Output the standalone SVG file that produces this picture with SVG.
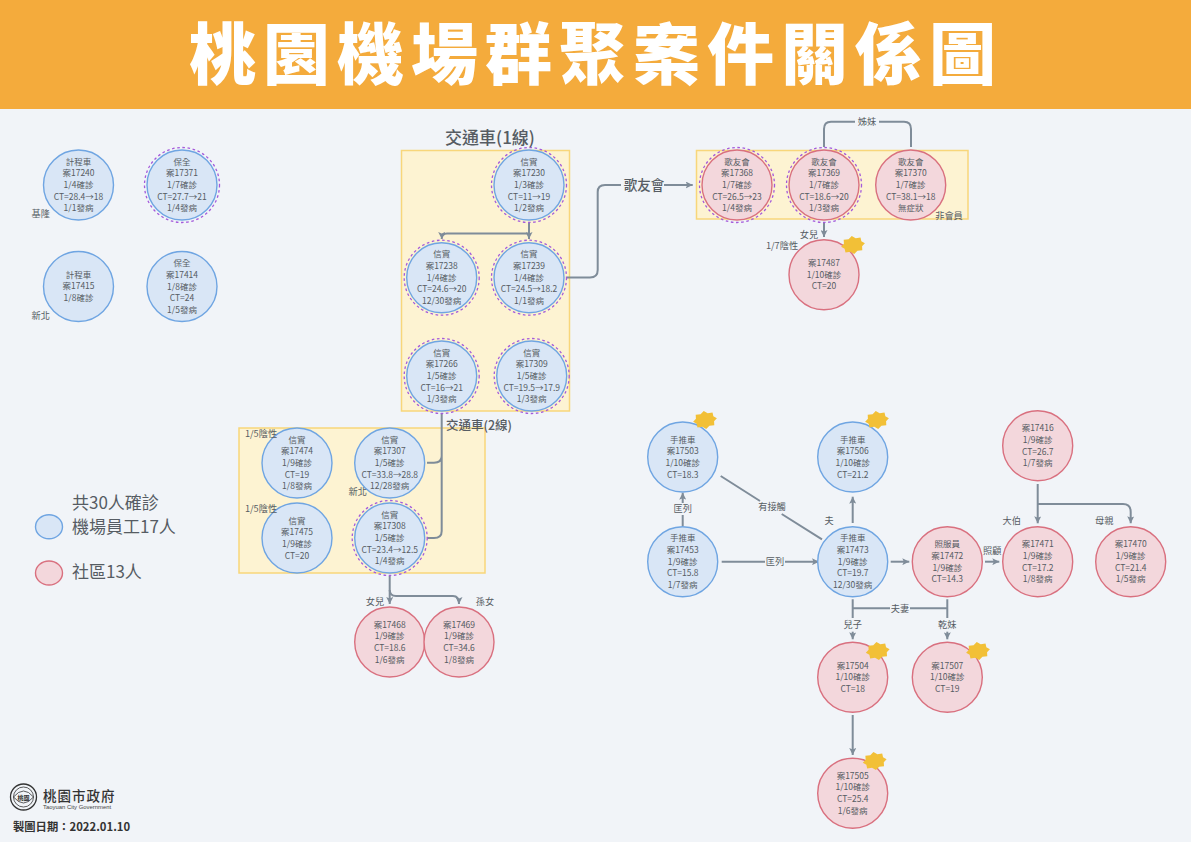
<svg xmlns="http://www.w3.org/2000/svg" width="1191" height="842" viewBox="0 0 1191 842">
<style>
text{font-family:"Noto Sans CJK TC","Noto Sans",sans-serif;text-anchor:middle;fill:#565c63}
.t{font-size:8.5px}
.l{font-size:9.2px}
.b{fill:#d9e6f6;stroke:#6fa5e2;stroke-width:1.4}
.r{fill:#f3d7dc;stroke:#d9707f;stroke-width:1.4}
.d{fill:none;stroke:#a45adb;stroke-width:1.3;stroke-dasharray:2.6 2.6}
.g{fill:#fdf3d2;stroke:#f8d67a;stroke-width:1.5}
.c{fill:none;stroke:#7f8c99;stroke-width:2}
.a{marker-end:url(#arrow)}
.s{fill:#f2c037}
.h{font-weight:500}
</style>
<defs>
<marker id="arrow" viewBox="0 0 7 7" refX="7" refY="3.500" markerWidth="7" markerHeight="7" markerUnits="userSpaceOnUse" orient="auto">
<path d="M0,0L7,3.500L0,7L1.500,3.500z" fill="#7f8c99"/>
</marker>
<path id="star" d="M12,0L8.800,2.600L8.500,6.400L3.600,6.300L0,9L-3.600,6.300L-8.500,6.400L-8.800,2.600L-12,0L-8.800,-2.600L-8.500,-6.400L-3.600,-6.300L0,-9L3.600,-6.300L8.500,-6.400L8.800,-2.600z"/>
</defs>
<rect width="1191" height="842" fill="#f1f4f8"/>
<rect width="1191" height="109" fill="#f4ab3c"/>
<text x="596" y="79" font-size="67" font-weight="900" letter-spacing="7" style="fill:#fff">桃園機場群聚案件關係圖</text>

<g id="groups">
<rect class="g" x="401.500" y="150.500" width="168" height="260.500"/>
<rect class="g" x="696.500" y="150.500" width="271.500" height="68.500"/>
<rect class="g" x="239" y="428" width="246" height="145"/>
</g>

<g id="connectors">
<path class="c a" d="M529,223V239"/>
<path class="c a" d="M529,233.500H447Q441.700,233.500 441.700,239"/>
<path class="c" d="M567,277.500H590Q597.700,277.500 597.700,270V192Q597.700,185 605,185H621"/>
<path class="c a" d="M664,185H692.700"/>
<path class="c" d="M824,147V129Q824,121.700 831,121.700H855M879,121.700H904Q911,121.700 911,129V147"/>
<path class="c a" d="M824,222V237"/>
<path class="c" d="M441.700,413V531Q441.700,538 434,538H427M441.700,456Q441.700,462.700 434,462.700H427"/>
<path class="c a" d="M389.700,576V604"/>
<path class="c a" d="M389.700,590Q389.700,596 396,596H453Q459,596 459,604"/>
<path class="c" d="M682.700,526V515"/>
<path class="c a" d="M682.700,503V492.700"/>
<path class="c" d="M720.700,476L760,501M781.700,514L822,539.300"/>
<path class="c" d="M721.700,561.700H765"/>
<path class="c a" d="M785,561.700H819"/>
<path class="c a" d="M852.700,523V496.700"/>
<path class="c a" d="M890.700,561.700H909.300"/>
<path class="c a" d="M985,561.700H999.300"/>
<path class="c a" d="M1037.700,484V523.300"/>
<path class="c a" d="M1037.700,504H1123Q1130.700,504 1130.700,512V523.300"/>
<path class="c" d="M852.700,599.300V618M947.300,599.300V618M852.700,608.300H890M910,608.300H947.300"/>
<path class="c a" d="M852.700,631.700V639.300"/>
<path class="c a" d="M947.300,631.700V639.300"/>
<path class="c a" d="M852.700,715V755"/>
<text x="644" y="190" font-size="13.500" class="h">歌友會</text>
<text class="l" x="867" y="124.500">姊妹</text>
<text class="l" x="809" y="238">女兒</text>
<text class="l" x="375" y="605">女兒</text>
<text class="l" x="485" y="605">孫女</text>
<text class="l" x="682.700" y="512.200">匡列</text>
<text class="l" x="772" y="510.200">有接觸</text>
<text class="l" x="775" y="564.800">匡列</text>
<text class="l" x="829" y="524">夫</text>
<text class="l" x="992.300" y="554">照顧</text>
<text class="l" x="1011.700" y="524">大伯</text>
<text class="l" x="1104.300" y="524">母親</text>
<text class="l" x="900" y="611.500">夫妻</text>
<text class="l" x="852.700" y="628">兒子</text>
<text class="l" x="947.300" y="628">乾妹</text>
</g>

<g id="n17240"><circle class="b" cx="78.500" cy="185" r="35"/><text class="t" x="78.500" y="164.700"><tspan x="78.500">計程車</tspan><tspan x="78.500" dy="11.670">案17240</tspan><tspan x="78.500" dy="11.670">1/4確診</tspan><tspan x="78.500" dy="11.670">CT=28.4→18</tspan><tspan x="78.500" dy="11.670">1/1發病</tspan></text></g>
<g id="n17371"><circle class="b" cx="182" cy="185" r="35"/><circle class="d" cx="182" cy="185" r="37.500"/><text class="t" x="182" y="164.700"><tspan x="182">保全</tspan><tspan x="182" dy="11.670">案17371</tspan><tspan x="182" dy="11.670">1/7確診</tspan><tspan x="182" dy="11.670">CT=27.7→21</tspan><tspan x="182" dy="11.670">1/4發病</tspan></text></g>
<g id="n17415"><circle class="b" cx="78.500" cy="286.500" r="35"/><text class="t" x="78.500" y="277.800"><tspan x="78.500">計程車</tspan><tspan x="78.500" dy="11.670">案17415</tspan><tspan x="78.500" dy="11.670">1/8確診</tspan></text></g>
<g id="n17414"><circle class="b" cx="182" cy="286.500" r="35"/><text class="t" x="182" y="266.200"><tspan x="182">保全</tspan><tspan x="182" dy="11.670">案17414</tspan><tspan x="182" dy="11.670">1/8確診</tspan><tspan x="182" dy="11.670">CT=24</tspan><tspan x="182" dy="11.670">1/5發病</tspan></text></g>

<g id="n17230"><circle class="b" cx="529" cy="185" r="35"/><circle class="d" cx="529" cy="185" r="37.500"/><text class="t" x="529" y="164.700"><tspan x="529">信實</tspan><tspan x="529" dy="11.670">案17230</tspan><tspan x="529" dy="11.670">1/3確診</tspan><tspan x="529" dy="11.670">CT=11→19</tspan><tspan x="529" dy="11.670">1/2發病</tspan></text></g>
<g id="n17238"><circle class="b" cx="441.700" cy="277.700" r="35"/><circle class="d" cx="441.700" cy="277.700" r="37.500"/><text class="t" x="441.700" y="257.400"><tspan x="441.700">信實</tspan><tspan x="441.700" dy="11.670">案17238</tspan><tspan x="441.700" dy="11.670">1/4確診</tspan><tspan x="441.700" dy="11.670">CT=24.6→20</tspan><tspan x="441.700" dy="11.670">12/30發病</tspan></text></g>
<g id="n17239"><circle class="b" cx="529" cy="277.700" r="35"/><circle class="d" cx="529" cy="277.700" r="37.500"/><text class="t" x="529" y="257.400"><tspan x="529">信實</tspan><tspan x="529" dy="11.670">案17239</tspan><tspan x="529" dy="11.670">1/4確診</tspan><tspan x="529" dy="11.670">CT=24.5→18.2</tspan><tspan x="529" dy="11.670">1/1發病</tspan></text></g>
<g id="n17266"><circle class="b" cx="441.700" cy="376" r="35"/><circle class="d" cx="441.700" cy="376" r="37.500"/><text class="t" x="441.700" y="355.700"><tspan x="441.700">信實</tspan><tspan x="441.700" dy="11.670">案17266</tspan><tspan x="441.700" dy="11.670">1/5確診</tspan><tspan x="441.700" dy="11.670">CT=16→21</tspan><tspan x="441.700" dy="11.670">1/3發病</tspan></text></g>
<g id="n17309"><circle class="b" cx="531.700" cy="376" r="35"/><circle class="d" cx="531.700" cy="376" r="37.500"/><text class="t" x="531.700" y="355.700"><tspan x="531.700">信實</tspan><tspan x="531.700" dy="11.670">案17309</tspan><tspan x="531.700" dy="11.670">1/5確診</tspan><tspan x="531.700" dy="11.670">CT=19.5→17.9</tspan><tspan x="531.700" dy="11.670">1/3發病</tspan></text></g>

<g id="n17368"><circle class="r" cx="737" cy="185" r="35"/><circle class="d" cx="737" cy="185" r="37.500"/><text class="t" x="737" y="164.700"><tspan x="737">歌友會</tspan><tspan x="737" dy="11.670">案17368</tspan><tspan x="737" dy="11.670">1/7確診</tspan><tspan x="737" dy="11.670">CT=26.5→23</tspan><tspan x="737" dy="11.670">1/4發病</tspan></text></g>
<g id="n17369"><circle class="r" cx="824" cy="185" r="35"/><circle class="d" cx="824" cy="185" r="37.500"/><text class="t" x="824" y="164.700"><tspan x="824">歌友會</tspan><tspan x="824" dy="11.670">案17369</tspan><tspan x="824" dy="11.670">1/7確診</tspan><tspan x="824" dy="11.670">CT=18.6→20</tspan><tspan x="824" dy="11.670">1/3發病</tspan></text></g>
<g id="n17370"><circle class="r" cx="910.700" cy="185" r="35"/><text class="t" x="910.700" y="164.700"><tspan x="910.700">歌友會</tspan><tspan x="910.700" dy="11.670">案17370</tspan><tspan x="910.700" dy="11.670">1/7確診</tspan><tspan x="910.700" dy="11.670">CT=38.1→18</tspan><tspan x="910.700" dy="11.670">無症狀</tspan></text></g>
<g id="n17487"><circle class="r" cx="824" cy="274.700" r="35"/><use href="#star" class="s" transform="translate(853,245) rotate(-8)"/><text class="t" x="824" y="266"><tspan x="824">案17487</tspan><tspan x="824" dy="11.670">1/10確診</tspan><tspan x="824" dy="11.670">CT=20</tspan></text></g>

<g id="n17474"><circle class="b" cx="297" cy="463" r="35"/><text class="t" x="297" y="442.700"><tspan x="297">信實</tspan><tspan x="297" dy="11.670">案17474</tspan><tspan x="297" dy="11.670">1/9確診</tspan><tspan x="297" dy="11.670">CT=19</tspan><tspan x="297" dy="11.670">1/8發病</tspan></text></g>
<g id="n17307"><circle class="b" cx="389.700" cy="463" r="35"/><text class="t" x="389.700" y="442.700"><tspan x="389.700">信實</tspan><tspan x="389.700" dy="11.670">案17307</tspan><tspan x="389.700" dy="11.670">1/5確診</tspan><tspan x="389.700" dy="11.670">CT=33.8→28.8</tspan><tspan x="389.700" dy="11.670">12/28發病</tspan></text></g>
<g id="n17475"><circle class="b" cx="297" cy="538" r="35"/><text class="t" x="297" y="523.500"><tspan x="297">信實</tspan><tspan x="297" dy="11.670">案17475</tspan><tspan x="297" dy="11.670">1/9確診</tspan><tspan x="297" dy="11.670">CT=20</tspan></text></g>
<g id="n17308"><circle class="b" cx="389.700" cy="538" r="35"/><circle class="d" cx="389.700" cy="538" r="37.500"/><text class="t" x="389.700" y="517.700"><tspan x="389.700">信實</tspan><tspan x="389.700" dy="11.670">案17308</tspan><tspan x="389.700" dy="11.670">1/5確診</tspan><tspan x="389.700" dy="11.670">CT=23.4→12.5</tspan><tspan x="389.700" dy="11.670">1/4發病</tspan></text></g>
<g id="n17468"><circle class="r" cx="389.700" cy="642" r="35"/><text class="t" x="389.700" y="627.500"><tspan x="389.700">案17468</tspan><tspan x="389.700" dy="11.670">1/9確診</tspan><tspan x="389.700" dy="11.670">CT=18.6</tspan><tspan x="389.700" dy="11.670">1/6發病</tspan></text></g>
<g id="n17469"><circle class="r" cx="459" cy="642" r="35"/><text class="t" x="459" y="627.500"><tspan x="459">案17469</tspan><tspan x="459" dy="11.670">1/9確診</tspan><tspan x="459" dy="11.670">CT=34.6</tspan><tspan x="459" dy="11.670">1/8發病</tspan></text></g>

<g id="n17503"><circle class="b" cx="682.700" cy="457" r="35"/><use href="#star" class="s" transform="translate(705,420) rotate(-8)"/><text class="t" x="682.700" y="442.500"><tspan x="682.700">手推車</tspan><tspan x="682.700" dy="11.670">案17503</tspan><tspan x="682.700" dy="11.670">1/10確診</tspan><tspan x="682.700" dy="11.670">CT=18.3</tspan></text></g>
<g id="n17506"><circle class="b" cx="852.700" cy="457" r="35"/><use href="#star" class="s" transform="translate(877,420) rotate(-8)"/><text class="t" x="852.700" y="442.500"><tspan x="852.700">手推車</tspan><tspan x="852.700" dy="11.670">案17506</tspan><tspan x="852.700" dy="11.670">1/10確診</tspan><tspan x="852.700" dy="11.670">CT=21.2</tspan></text></g>
<g id="n17453"><circle class="b" cx="682.700" cy="561.700" r="35"/><text class="t" x="682.700" y="541.400"><tspan x="682.700">手推車</tspan><tspan x="682.700" dy="11.670">案17453</tspan><tspan x="682.700" dy="11.670">1/9確診</tspan><tspan x="682.700" dy="11.670">CT=15.8</tspan><tspan x="682.700" dy="11.670">1/7發病</tspan></text></g>
<g id="n17473"><circle class="b" cx="852.700" cy="561.700" r="35"/><text class="t" x="852.700" y="541.400"><tspan x="852.700">手推車</tspan><tspan x="852.700" dy="11.670">案17473</tspan><tspan x="852.700" dy="11.670">1/9確診</tspan><tspan x="852.700" dy="11.670">CT=19.7</tspan><tspan x="852.700" dy="11.670">12/30發病</tspan></text></g>
<g id="n17472"><circle class="r" cx="947.300" cy="561.700" r="35"/><text class="t" x="947.300" y="547.200"><tspan x="947.300">照服員</tspan><tspan x="947.300" dy="11.670">案17472</tspan><tspan x="947.300" dy="11.670">1/9確診</tspan><tspan x="947.300" dy="11.670">CT=14.3</tspan></text></g>
<g id="n17471"><circle class="r" cx="1037.700" cy="561.700" r="35"/><text class="t" x="1037.700" y="547.200"><tspan x="1037.700">案17471</tspan><tspan x="1037.700" dy="11.670">1/9確診</tspan><tspan x="1037.700" dy="11.670">CT=17.2</tspan><tspan x="1037.700" dy="11.670">1/8發病</tspan></text></g>
<g id="n17470"><circle class="r" cx="1130.700" cy="561.700" r="35"/><text class="t" x="1130.700" y="547.200"><tspan x="1130.700">案17470</tspan><tspan x="1130.700" dy="11.670">1/9確診</tspan><tspan x="1130.700" dy="11.670">CT=21.4</tspan><tspan x="1130.700" dy="11.670">1/5發病</tspan></text></g>
<g id="n17416"><circle class="r" cx="1037.700" cy="445.700" r="35"/><text class="t" x="1037.700" y="431.200"><tspan x="1037.700">案17416</tspan><tspan x="1037.700" dy="11.670">1/9確診</tspan><tspan x="1037.700" dy="11.670">CT=26.7</tspan><tspan x="1037.700" dy="11.670">1/7發病</tspan></text></g>
<g id="n17504"><circle class="r" cx="852.700" cy="677.300" r="35"/><use href="#star" class="s" transform="translate(877.700,651) rotate(-8)"/><text class="t" x="852.700" y="668.600"><tspan x="852.700">案17504</tspan><tspan x="852.700" dy="11.670">1/10確診</tspan><tspan x="852.700" dy="11.670">CT=18</tspan></text></g>
<g id="n17507"><circle class="r" cx="947.300" cy="677.300" r="35"/><use href="#star" class="s" transform="translate(978,651) rotate(-8)"/><text class="t" x="947.300" y="668.600"><tspan x="947.300">案17507</tspan><tspan x="947.300" dy="11.670">1/10確診</tspan><tspan x="947.300" dy="11.670">CT=19</tspan></text></g>
<g id="n17505"><circle class="r" cx="852.700" cy="793.300" r="35"/><use href="#star" class="s" transform="translate(874.700,761) rotate(-8)"/><text class="t" x="852.700" y="778.800"><tspan x="852.700">案17505</tspan><tspan x="852.700" dy="11.670">1/10確診</tspan><tspan x="852.700" dy="11.670">CT=25.4</tspan><tspan x="852.700" dy="11.670">1/6發病</tspan></text></g>

<g id="labels">
<text x="490" y="144" font-size="17" class="h">交通車(1線)</text>
<text x="479" y="430" font-size="12.500" class="h">交通車(2線)</text>
<text class="l" x="949" y="218.500">非會員</text>
<text class="l" x="782" y="249">1/7陰性</text>
<text class="l" x="40.700" y="217">基隆</text>
<text class="l" x="40.700" y="318.700">新北</text>
<text class="l" x="357.700" y="494.700">新北</text>
<text class="l" x="261" y="437">1/5陰性</text>
<text class="l" x="261" y="512">1/5陰性</text>
</g>

<g id="legend">
<ellipse class="b" cx="49" cy="526.700" rx="13.500" ry="12"/>
<ellipse class="r" cx="49" cy="573" rx="13.500" ry="12"/>
<text x="72" y="508.500" font-size="17" style="text-anchor:start">共30人確診</text>
<text x="72" y="533" font-size="17" style="text-anchor:start">機場員工17人</text>
<text x="72" y="578" font-size="17" style="text-anchor:start">社區13人</text>
</g>

<g id="logo">
<circle cx="23.500" cy="797" r="13" fill="none" stroke="#333" stroke-width="1.300"/>
<circle cx="23.500" cy="797" r="10" fill="none" stroke="#333" stroke-width="0.800"/>
<path d="M13.500,797Q23.500,785 33.500,797Q23.500,809 13.500,797z" fill="none" stroke="#333" stroke-width="0.800"/>
<text x="23.500" y="799.500" font-size="6" font-weight="700" style="fill:#333">桃園</text>
<text x="43" y="801" font-size="13.500" font-weight="500" letter-spacing="1" style="fill:#333;text-anchor:start">桃園市政府</text>
<text x="43" y="809" font-size="5.900" style="fill:#444;text-anchor:start;font-family:'Liberation Sans',sans-serif">Taoyuan City Government</text>
<text x="13" y="831" font-size="11.300" font-weight="700" style="fill:#333;text-anchor:start">製圖日期：2022.01.10</text>
</g>
</svg>
